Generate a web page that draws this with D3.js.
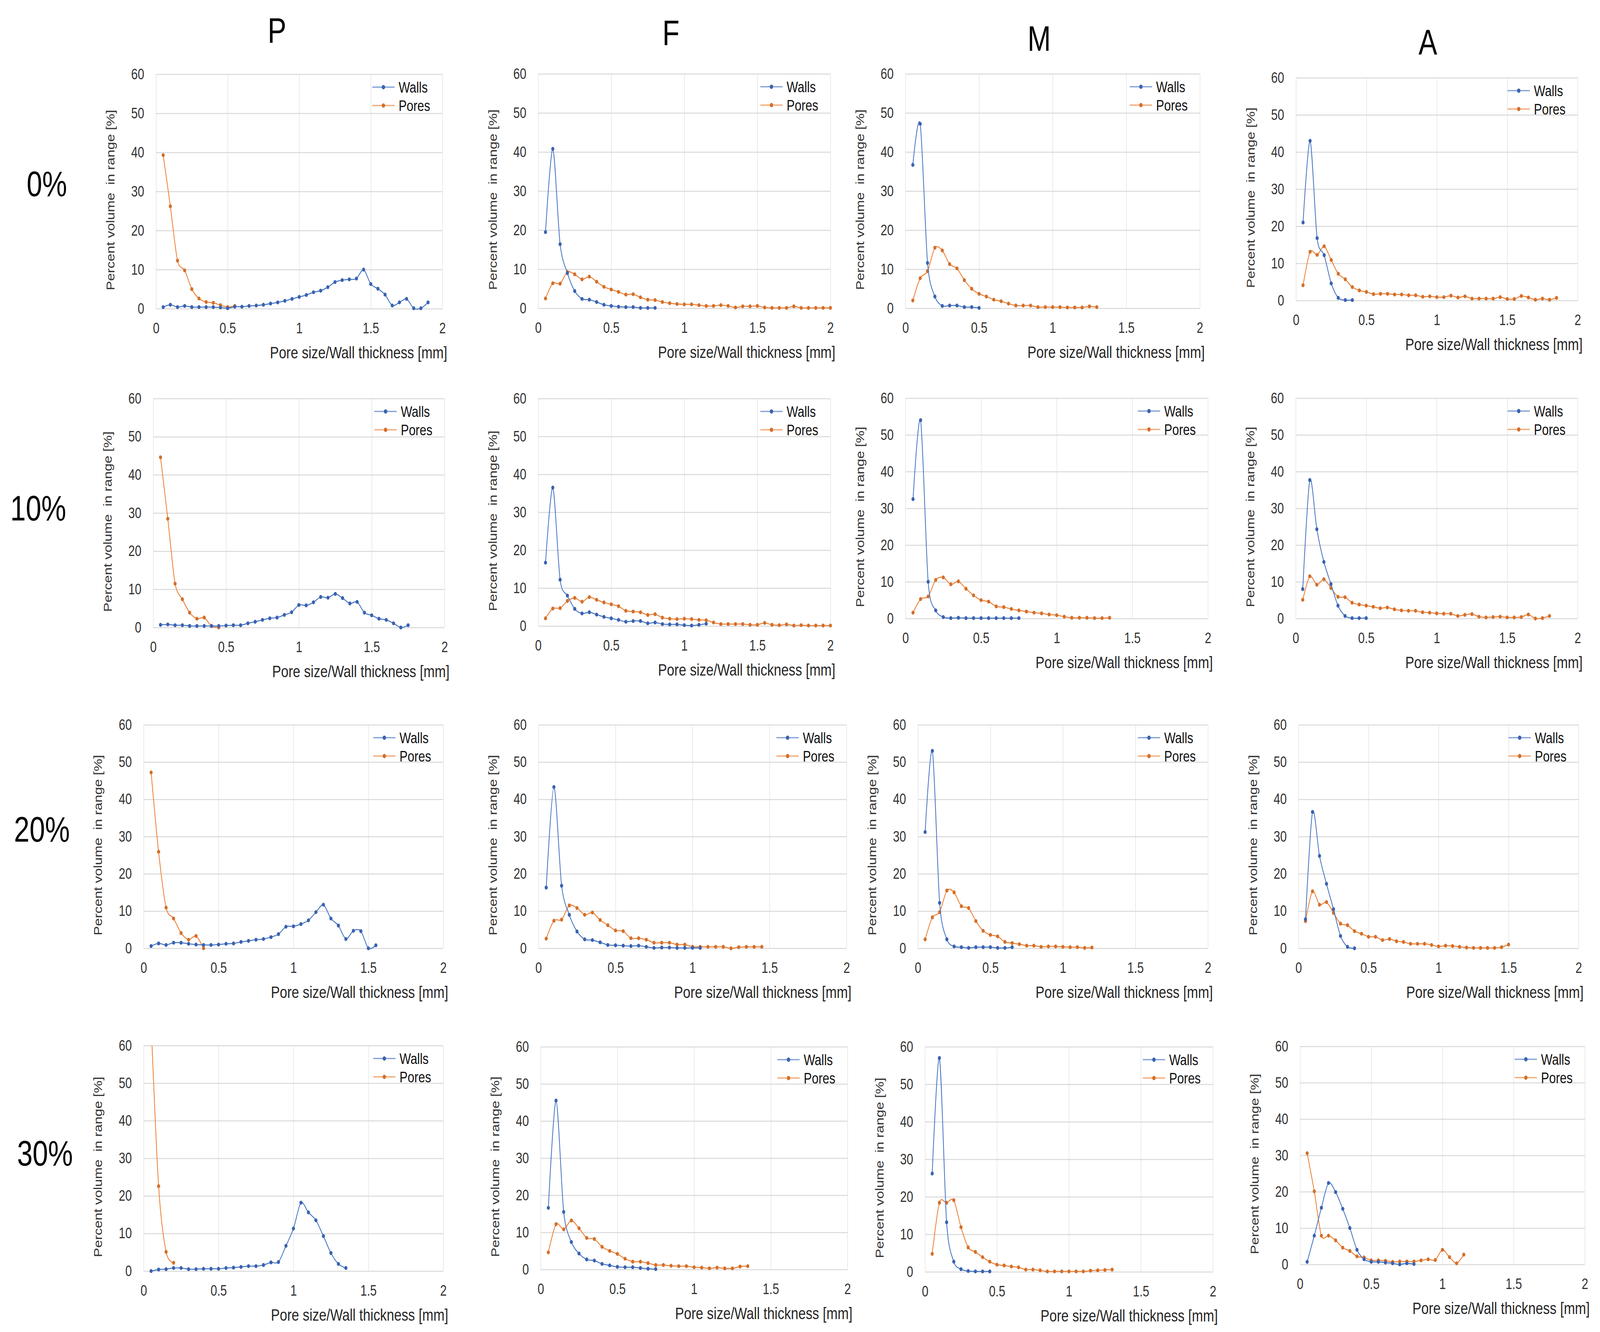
<!DOCTYPE html>
<html>
<head>
<meta charset="utf-8">
<script src="https://cdn.jsdelivr.net/npm/d3@7"></script>
<style>
  html, body { margin: 0; padding: 0; background: #fff; overflow: hidden; }
  #chart svg { display: block; width: 100vw; height: 100vh; }
  text { font-family: "Liberation Sans", Arial, sans-serif; }
</style>
</head>
<body>
<div id="chart"></div>
<script>
// bin centres (mm)
var bins = [0.05, 0.1, 0.15, 0.2, 0.25, 0.3, 0.35, 0.4, 0.45, 0.5,
            0.55, 0.6, 0.65, 0.7, 0.75, 0.8, 0.85, 0.9, 0.95, 1.0,
            1.05, 1.1, 1.15, 1.2, 1.25, 1.3, 1.35, 1.4, 1.45, 1.5,
            1.55, 1.6, 1.65, 1.7, 1.75, 1.8, 1.85, 1.9, 1.95, 2.0];

var columns = ["P", "F", "M", "A"];
var rowLabels = ["0%", "10%", "20%", "30%"];
var seriesNames = ["Walls", "Pores"];
var yTicks = [0, 10, 20, 30, 40, 50, 60];
var xTicks = [0, 0.5, 1, 1.5, 2];

// ---- 0% ----
var P0_walls = [0.4, 1.0, 0.4, 0.7, 0.4, 0.4, 0.4, 0.4, 0.3, 0.1, 0.5, 0.5, 0.7, 0.8, 1.0, 1.3, 1.6, 2.0, 2.5, 3.0,
                3.5, 4.2, 4.6, 5.5, 6.8, 7.3, 7.5, 7.7, 10.0, 6.3, 5.1, 3.6, 0.8, 1.6, 2.5, 0.1, 0.1, 1.6];
var P0_pores = [39.3, 26.2, 12.3, 9.8, 5.0, 2.6, 1.7, 1.5, 0.9, 0.4, 0.7];
var F0_walls = [19.5, 40.8, 16.4, 9.0, 4.4, 2.4, 2.2, 1.6, 0.9, 0.6, 0.4, 0.3, 0.3, 0.1, 0.1, 0.1];
var F0_pores = [2.5, 6.4, 6.3, 9.3, 8.7, 7.4, 8.1, 6.8, 5.5, 4.8, 4.2, 3.5, 3.6, 2.8, 2.2, 2.1, 1.6, 1.3, 1.1, 1.0,
                1.0, 0.8, 0.6, 0.6, 0.8, 0.6, 0.2, 0.5, 0.5, 0.6, 0.2, 0.1, 0.1, 0.1, 0.5, 0.1, 0.1, 0.1, 0.1, 0.1];
var M0_walls = [36.7, 47.2, 11.6, 3.0, 0.6, 0.7, 0.7, 0.3, 0.3, 0.1];
var M0_pores = [2.0, 7.7, 9.5, 15.5, 14.8, 11.3, 10.2, 7.2, 5.0, 3.7, 3.0, 2.2, 1.8, 1.2, 0.7, 0.7, 0.7, 0.3, 0.3, 0.3,
                0.3, 0.2, 0.2, 0.2, 0.5, 0.3];
var A0_walls = [21.0, 43.0, 16.8, 12.2, 4.6, 0.7, 0.1, 0.1];
var A0_pores = [4.1, 13.1, 12.3, 14.6, 10.9, 7.2, 5.7, 3.6, 2.7, 2.3, 1.7, 1.8, 1.8, 1.6, 1.6, 1.4, 1.4, 1.0, 1.1, 0.9,
                0.9, 1.3, 0.8, 1.1, 0.5, 0.5, 0.5, 0.5, 0.9, 0.4, 0.4, 1.2, 0.8, 0.2, 0.5, 0.2, 0.7];

// ---- 10% ----
var P1_walls = [0.7, 0.8, 0.6, 0.6, 0.4, 0.4, 0.4, 0.4, 0.4, 0.5, 0.6, 0.6, 1.1, 1.5, 2.0, 2.4, 2.6, 3.3, 4.0, 5.9,
                5.8, 6.6, 8.0, 7.8, 8.8, 7.7, 6.3, 6.7, 3.9, 3.2, 2.3, 2.0, 1.1, 0.0, 0.6];
var P1_pores = [44.6, 28.5, 11.5, 7.4, 3.9, 2.3, 2.6, 0.4, 0.0];
var F1_walls = [16.7, 36.5, 12.2, 8.0, 4.5, 3.3, 3.6, 3.0, 2.4, 2.0, 1.6, 1.1, 1.3, 1.3, 0.7, 0.9, 0.5, 0.4, 0.4, 0.2,
                0.1, 0.3, 0.6];
var F1_pores = [2.0, 4.6, 4.7, 6.6, 7.4, 6.4, 7.6, 6.9, 6.2, 5.7, 5.2, 4.0, 3.8, 3.6, 2.9, 3.1, 2.2, 1.9, 1.8, 1.9,
                1.8, 1.6, 1.5, 0.9, 0.5, 0.5, 0.5, 0.5, 0.3, 0.3, 0.8, 0.3, 0.2, 0.4, 0.1, 0.2, 0.1, 0.1, 0.1, 0.1];
var M1_walls = [32.5, 54.0, 10.0, 2.2, 0.4, 0.1, 0.2, 0.1, 0.1, 0.1, 0.1, 0.1, 0.1, 0.1, 0.1];
var M1_pores = [1.6, 5.3, 6.0, 10.5, 11.2, 9.3, 10.1, 8.1, 6.3, 5.0, 4.6, 3.3, 3.1, 2.6, 2.2, 1.9, 1.6, 1.4, 1.1, 0.9,
                0.5, 0.2, 0.2, 0.2, 0.1, 0.1, 0.2];
var A1_walls = [8.0, 37.7, 24.3, 15.4, 9.4, 3.5, 0.7, 0.1, 0.1, 0.1];
var A1_pores = [5.1, 11.5, 9.2, 10.7, 8.3, 5.9, 5.8, 4.3, 3.8, 3.5, 3.2, 2.8, 3.0, 2.5, 2.2, 2.1, 2.1, 1.7, 1.6, 1.4,
                1.3, 1.3, 0.7, 1.0, 1.2, 0.5, 0.3, 0.4, 0.5, 0.3, 0.3, 0.4, 1.1, 0.0, 0.1, 0.7];

// ---- 20% ----
var P2_walls = [0.6, 1.3, 0.9, 1.5, 1.5, 1.2, 1.0, 0.9, 0.9, 1.0, 1.2, 1.3, 1.7, 2.0, 2.3, 2.5, 3.0, 3.8, 5.8, 5.9,
                6.5, 7.5, 9.7, 11.7, 8.0, 6.1, 2.5, 4.7, 4.6, 0.0, 0.8];
var P2_pores = [47.2, 25.9, 10.9, 8.0, 4.1, 2.3, 3.3, 0.0];
var F2_walls = [16.3, 43.3, 16.8, 9.0, 4.5, 2.4, 2.2, 1.6, 0.9, 0.8, 0.7, 0.6, 0.7, 0.4, 0.1, 0.2, 0.2, 0.1, 0.1, 0.1,
                0.1];
var F2_pores = [2.6, 7.4, 7.7, 11.5, 10.8, 9.0, 9.6, 7.6, 6.2, 4.8, 4.6, 2.7, 2.7, 2.3, 1.5, 1.5, 1.5, 1.0, 1.0, 0.4,
                0.4, 0.4, 0.4, 0.4, 0.0, 0.3, 0.4, 0.4, 0.4];
var M2_walls = [31.2, 53.0, 12.2, 2.4, 0.5, 0.3, 0.1, 0.3, 0.3, 0.3, 0.1, 0.1, 0.3];
var M2_pores = [2.4, 8.3, 9.7, 15.5, 15.0, 11.3, 10.8, 7.3, 4.7, 3.6, 3.2, 1.7, 1.4, 1.1, 0.7, 0.7, 0.4, 0.5, 0.5, 0.4,
                0.3, 0.3, 0.1, 0.2];
var A2_walls = [7.8, 36.6, 24.8, 17.3, 10.5, 3.3, 0.4, 0.0];
var A2_pores = [7.3, 15.3, 11.7, 12.4, 9.5, 6.6, 6.2, 4.6, 3.9, 3.1, 3.1, 2.2, 2.5, 1.9, 1.7, 1.2, 1.2, 1.2, 0.9, 0.5,
                0.7, 0.6, 0.4, 0.2, 0.1, 0.1, 0.1, 0.1, 0.3, 1.0];

// ---- 30% ----
var P3_walls = [0.0, 0.4, 0.5, 0.8, 0.8, 0.5, 0.5, 0.6, 0.6, 0.6, 0.8, 0.9, 1.1, 1.3, 1.3, 1.6, 2.3, 2.4, 6.7, 11.3,
                18.2, 15.6, 13.5, 9.3, 4.8, 1.9, 0.8];
var P3_pores = [66.0, 22.6, 5.1, 2.2];
var F3_walls = [16.6, 45.5, 15.5, 7.4, 4.3, 2.7, 2.4, 1.5, 1.1, 0.7, 0.6, 0.6, 0.4, 0.2, 0.1];
var F3_pores = [4.6, 12.2, 10.8, 13.2, 11.1, 8.5, 8.2, 6.1, 5.0, 4.2, 2.9, 2.1, 2.1, 1.7, 1.2, 1.2, 1.0, 0.9, 0.9, 0.6,
                0.5, 0.3, 0.5, 0.3, 0.3, 0.8, 0.9];
var M3_walls = [26.2, 57.0, 13.2, 2.7, 0.7, 0.2, 0.1, 0.1, 0.1];
var M3_pores = [4.8, 18.4, 18.4, 19.1, 11.9, 6.5, 5.3, 3.9, 2.7, 1.9, 1.7, 1.4, 1.2, 0.6, 0.6, 0.4, 0.1, 0.1, 0.1, 0.1,
                0.1, 0.1, 0.3, 0.4, 0.5, 0.6];
var A3_walls = [0.7, 7.9, 15.6, 22.4, 19.9, 15.3, 10.0, 4.0, 1.4, 0.7, 0.7, 0.5, 0.3, 0.0, 0.3, 0.1];
var A3_pores = [30.6, 20.1, 7.9, 7.9, 6.6, 4.6, 3.7, 2.2, 1.9, 1.1, 1.1, 1.0, 0.7, 0.8, 0.8, 0.8, 1.1, 1.4, 1.2, 4.0,
                2.0, 0.3, 2.7];

var panelData = [
  [[P0_walls, P0_pores], [F0_walls, F0_pores], [M0_walls, M0_pores], [A0_walls, A0_pores]],
  [[P1_walls, P1_pores], [F1_walls, F1_pores], [M1_walls, M1_pores], [A1_walls, A1_pores]],
  [[P2_walls, P2_pores], [F2_walls, F2_pores], [M2_walls, M2_pores], [A2_walls, A2_pores]],
  [[P3_walls, P3_pores], [F3_walls, F3_pores], [M3_walls, M3_pores], [A3_walls, A3_pores]]
];

// plot area boxes [left, right, top, bottom] in page pixels
var boxes = [
  [[503, 1426, 190, 790], [1735, 2677, 189, 789], [2919, 3868, 189, 789], [4178, 5086, 199, 769]],
  [[494, 1433, 1020, 1606], [1735, 2677, 1020, 1602], [2919, 3894, 1019, 1583], [4177, 5086, 1019, 1583]],
  [[463, 1429, 1855, 2427], [1736, 2729, 1855, 2427], [2959, 3894, 1855, 2427], [4186, 5089, 1855, 2427]],
  [[463, 1429, 2676, 3253], [1743, 2732, 2679, 3249], [2982, 3910, 2679, 3255], [4191, 5109, 2678, 3236]]
];
var colPos = [[893, 77], [2163, 83], [3350, 98], [4603, 107]];
var rowPos = [[151, 470], [123, 1300], [135, 2122], [145, 2951]];

var colors = ["#4472C4", "#ED7D31"];
var markColors = ["#3A62AE", "#D2702C"];

var W = 5158, H = 3409;
var svg = d3.select('#chart').append('svg')
  .attr('viewBox', '0 0 ' + W + ' ' + H)
  .attr('preserveAspectRatio', 'none');
svg.append('rect').attr('width', W).attr('height', H).attr('fill', '#fff');

// column + row headings
svg.selectAll('.colhead').data(columns).enter().append('text')
  .attr('x', function(d, i) { return colPos[i][0]; })
  .attr('y', function(d, i) { return colPos[i][1]; })
  .attr('text-anchor', 'middle')
  .attr('dominant-baseline', 'central')
  .attr('font-family', 'Lato, "Open Sans", sans-serif')
  .attr('font-size', 90)
  .attr('fill', '#000')
  .text(function(d) { return d; });

svg.selectAll('.rowhead').data(rowLabels).enter().append('text')
  .attr('x', function(d, i) { return rowPos[i][0]; })
  .attr('y', function(d, i) { return rowPos[i][1]; })
  .attr('text-anchor', 'middle')
  .attr('dominant-baseline', 'central')
  .attr('font-family', 'Lato, "Open Sans", sans-serif')
  .attr('font-size', 90)
  .attr('fill', '#000')
  .text(function(d) { return d; });

function drawPanel(r, c) {
  var b = boxes[r][c];
  var x = d3.scaleLinear().domain([0, 2]).range([b[0], b[1]]);
  var y = d3.scaleLinear().domain([0, 60]).range([b[3], b[2]]);
  var g = svg.append('g');
  var clipId = 'clip' + r + '_' + c;

  g.append('clipPath').attr('id', clipId).append('rect')
    .attr('x', b[0] - 10).attr('y', b[2])
    .attr('width', b[1] - b[0] + 20).attr('height', b[3] - b[2] + 10);

  // gridlines
  var gx = g.append('g').attr('transform', 'translate(0,' + b[2] + ')')
    .call(d3.axisBottom(x).tickValues(xTicks).tickSize(b[3] - b[2]).tickFormat(''));
  gx.select('.domain').remove();
  gx.selectAll('line').attr('stroke', '#e6e6e6').attr('stroke-width', 2);

  var gy = g.append('g').attr('transform', 'translate(' + b[0] + ',0)')
    .call(d3.axisLeft(y).tickValues(yTicks).tickSize(-(b[1] - b[0])).tickFormat(''));
  gy.select('.domain').remove();
  gy.selectAll('line').attr('stroke', '#d9d9d9').attr('stroke-width', 2.5);

  // tick labels
  var ly = g.append('g').attr('transform', 'translate(' + (b[0] - 18) + ',0)')
    .call(d3.axisLeft(y).tickValues(yTicks).tickSize(0).tickPadding(20));
  ly.select('.domain').remove();
  ly.selectAll('text').attr('font-size', 38).attr('fill', '#333')
    .attr('font-family', '"Liberation Sans", Arial, sans-serif');

  var lx = g.append('g').attr('transform', 'translate(0,' + (b[3] + 22) + ')')
    .call(d3.axisBottom(x).tickValues(xTicks).tickSize(0).tickPadding(14).tickFormat(d3.format('')));
  lx.select('.domain').remove();
  lx.selectAll('text').attr('font-size', 38).attr('fill', '#333')
    .attr('font-family', '"Liberation Sans", Arial, sans-serif');

  // axis titles
  var midY = (b[2] + b[3]) / 2 + 22;
  g.append('text')
    .attr('transform', 'translate(' + (b[0] - 146) + ',' + midY + ') rotate(-90)')
    .attr('text-anchor', 'middle')
    .attr('dominant-baseline', 'central')
    .attr('font-size', 36)
    .attr('fill', '#333')
    .attr('xml:space', 'preserve')
    .text('Percent volume  in range [%]');

  g.append('text')
    .attr('x', b[1] + 16)
    .attr('y', b[3] + 112)
    .attr('text-anchor', 'end')
    .attr('dominant-baseline', 'central')
    .attr('font-family', 'Lato, "Open Sans", sans-serif')
    .attr('font-size', 43)
    .attr('fill', '#262626')
    .text('Pore size/Wall thickness [mm]');

  // series
  var line = d3.line()
    .x(function(d, i) { return x(bins[i]); })
    .y(function(d) { return y(d); })
    .curve(d3.curveCardinal.tension(0.15));

  var series = panelData[r][c];
  // pores first so walls sit on top
  [1, 0].forEach(function(s) {
    var vals = series[s];
    var sg = g.append('g').attr('clip-path', 'url(#' + clipId + ')');
    sg.append('path').datum(vals)
      .attr('d', line)
      .attr('fill', 'none')
      .attr('stroke', colors[s])
      .attr('stroke-width', 2.5);
    sg.selectAll('circle').data(vals).enter().append('circle')
      .attr('cx', function(d, i) { return x(bins[i]); })
      .attr('cy', function(d) { return y(d); })
      .attr('r', 5)
      .attr('fill', markColors[s]);
  });

  // legend
  seriesNames.forEach(function(name, s) {
    var ly0 = b[2] + 33 + s * 47;
    var lg = g.append('g');
    lg.append('line')
      .attr('x1', b[1] - 226).attr('x2', b[1] - 154)
      .attr('y1', ly0).attr('y2', ly0)
      .attr('stroke', colors[s]).attr('stroke-opacity', 0.7).attr('stroke-width', 3);
    lg.append('circle')
      .attr('cx', b[1] - 190).attr('cy', ly0).attr('r', 5.5)
      .attr('fill', markColors[s]);
    lg.append('text')
      .attr('x', b[1] - 141).attr('y', ly0)
      .attr('dominant-baseline', 'central')
      .attr('font-size', 39)
      .attr('fill', '#111')
      .text(name);
  });
}

for (var r = 0; r < 4; r++) {
  for (var c = 0; c < 4; c++) {
    drawPanel(r, c);
  }
}
</script>
</body>
</html>
